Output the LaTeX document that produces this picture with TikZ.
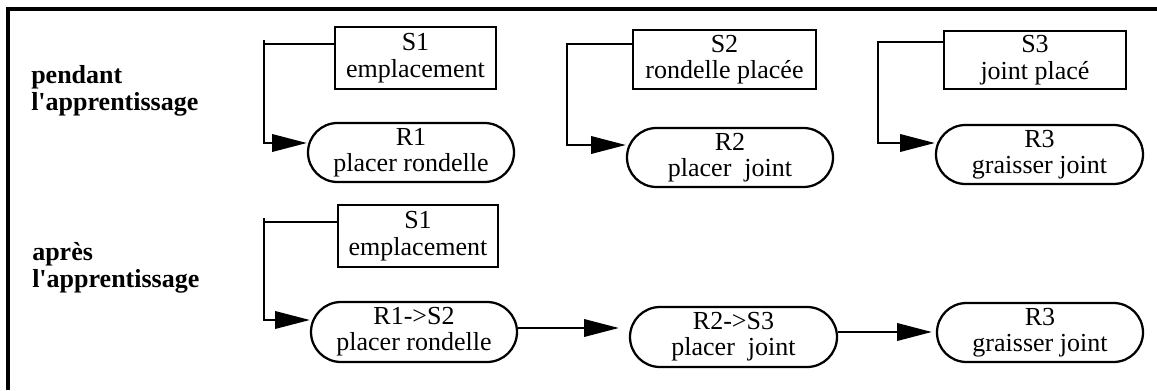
\documentclass[tikz,border=0pt]{standalone}
\usepackage{fontspec}
\setmainfont{Liberation Serif}
\newfontfamily\tnr{Liberation Serif}
\usetikzlibrary{shapes.misc,arrows.meta,calc}
\newcommand{\tightls}{\lineskiplimit=-30pt\relax}
\begin{document}
\begin{tikzpicture}[x=0.75pt,y=0.75pt,
  frame/.style={line width=2.3pt},
  sbox/.style={draw, line width=1.7pt, rectangle, inner sep=0pt, align=center,
    font={\tnr\fontsize{19.5}{20}\selectfont\tightls}},
  rbox/.style={draw, line width=1.7pt, rounded rectangle, inner sep=0pt, align=center,
    font={\tnr\fontsize{19.5}{19.5}\selectfont\tightls}},
  conn/.style={line width=1.7pt, -{Triangle[length=26pt,width=13pt]}},
  lab/.style={anchor=north west, inner sep=0pt, align=left,
    font={\tnr\fontsize{19.5}{20.5}\selectfont\bfseries\tightls}}]
\useasboundingbox (0,0) rectangle (1157,390);
% frame
\draw[frame] (8,0) -- (8,381) -- (1157,381);
% labels
\node[lab] (Lp) at (31,325) {pendant\\l'apprentissage};
\node[lab] (La) at (32,148) {après\\l'apprentissage};
% top row
\node[sbox, minimum width=120.75pt, minimum height=46.5pt] (S1a) at (415.5,332) {S1\\emplacement};
\node[rbox, minimum width=154.5pt, minimum height=44.25pt] (R1a) at (411,237.5) {R1\\placer rondelle};
\node[sbox, minimum width=137.25pt, minimum height=44.25pt] (S2) at (724.5,330.5) {S2\\rondelle placée};
\node[rbox, minimum width=154.5pt, minimum height=44.25pt] (R2) at (730,232.5) {R2\\placer\ \ joint};
\node[sbox, minimum width=136.5pt, minimum height=43.5pt] (S3) at (1035,330) {S3\\joint placé};
\node[rbox, minimum width=155.25pt, minimum height=44.25pt] (R3) at (1039.5,235.5) {R3\\graisser joint};
% bottom row
\node[sbox, minimum width=120pt, minimum height=46.5pt] (S1b) at (418,154) {S1\\emplacement};
\node[rbox, minimum width=154.5pt, minimum height=45pt] (R12) at (414,58) {R1->S2\\placer rondelle};
\node[rbox, minimum width=155.25pt, minimum height=45pt] (R23) at (733.5,53) {R2->S3\\placer\ \ joint};
\node[rbox, minimum width=154.5pt, minimum height=44.25pt] (R3b) at (1040,57.5) {R3\\graisser joint};
% connectors
\draw[conn] ($(S1a.west)+(0,14)$) -- ++(-70,0) coordinate (c1) |- ($(R1a.west)+(0,9.5)$);
\draw[line width=1.7pt] (c1) -- ++(0,4);
\draw[conn] ($(S2.west)+(0,15.5)$) -- ++(-65,0) |- ($(R2.west)+(0,12.5)$);
\draw[conn] ($(S3.west)+(0,18)$) -- ++(-65,0) |- ($(R3.west)+(0,11.5)$);
\draw[conn] ($(S1b.west)+(0,14)$) -- ++(-73,0) coordinate (c4) |- ($(R12.west)+(0,12)$);
\draw[line width=1.7pt] (c4) -- ++(0,4);
\draw[conn, shorten >=7.5pt] ($(R12.east)+(0,4)$) coordinate (a1) -- (a1 -| R23.west);
\draw[conn, shorten >=3pt] ($(R23.east)+(0,5)$) coordinate (a2) -- (a2 -| R3b.west);
\end{tikzpicture}
\end{document}
